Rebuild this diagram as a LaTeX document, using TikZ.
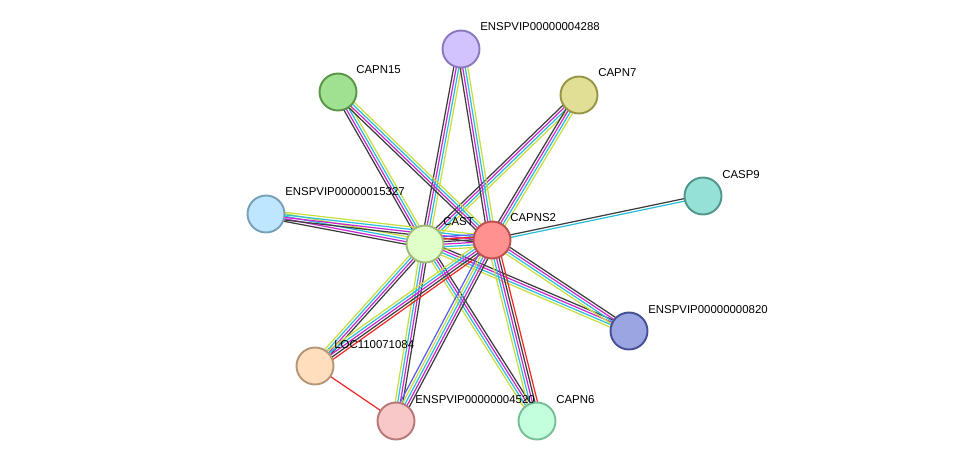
\documentclass[tikz,border=0pt]{standalone}
\usepackage{fontspec}
\setmainfont{Liberation Sans}
\usetikzlibrary{calc}
\definecolor{tm}{RGB}{199,222,62}
\definecolor{db}{RGB}{42,190,220}
\definecolor{ex}{RGB}{200,40,210}
\definecolor{co}{RGB}{60,60,60}
\definecolor{fu}{RGB}{240,40,40}
\definecolor{oc}{RGB}{90,90,250}
\tikzset{
  prot/.style={circle,minimum size=0.74cm,line width=1.1pt,inner sep=0pt},
  lab/.style={anchor=west,font=\fontsize{6.5}{7}\selectfont,inner sep=0pt}
}
% edge with parallel coloured strands
\newcommand{\stringedge}[3]{%
  \foreach \c [count=\i] in {#3} {\xdef\nstr{\i}}%
  \foreach \c [count=\i] in {#3} {%
    \pgfmathsetmacro{\off}{(\i-(\nstr+1)/2)*1.45}%
    \draw[\c,line width=0.7pt] ($(#1)!\off pt!90:(#2)$) -- ($(#2)!\off pt!-90:(#1)$);
  }%
}
\begin{document}
\begin{tikzpicture}[x=0.02cm,y=-0.02cm]
  \useasboundingbox (0,0) rectangle (975,467);
  \coordinate (cast) at (425,244);
  \coordinate (capns2) at (492,240);
  \coordinate (p4288) at (461,49);
  \coordinate (capn15) at (338,92);
  \coordinate (capn7) at (579,95);
  \coordinate (casp9) at (703,196);
  \coordinate (p15327) at (266,214);
  \coordinate (p0820) at (629,331);
  \coordinate (loc) at (315,366);
  \coordinate (p4520) at (396,421);
  \coordinate (capn6) at (537,421);
  % edges
  \foreach \t in {p4288,capn15,capn7,p15327,p0820,loc,p4520,capn6} {
    \stringedge{cast}{\t}{tm,db,ex,co}
  }
  \foreach \t in {p4288,capn15,capn7,p15327,p0820} {
    \stringedge{capns2}{\t}{tm,db,ex,co}
  }
  \stringedge{capns2}{loc}{tm,db,ex,co,fu}
  \stringedge{capns2}{p4520}{oc,tm,db,ex,co}
  \stringedge{capns2}{capn6}{tm,db,ex,co,fu}
  \stringedge{capns2}{casp9}{db,co}
  \stringedge{cast}{capns2}{tm,db,ex,co,fu,oc}
  \draw[fu,line width=0.7pt] (loc) -- (p4520);
  % nodes
  \node[prot,draw={rgb,255:red,160;green,185;blue,120},fill={rgb,255:red,225;green,255;blue,200}] (n1) at (cast) {};
  \node[prot,draw={rgb,255:red,190;green,80;blue,80},fill={rgb,255:red,255;green,145;blue,145}] (n2) at (capns2) {};
  \node[prot,draw={rgb,255:red,140;green,120;blue,190},fill={rgb,255:red,210;green,195;blue,255}] (n3) at (p4288) {};
  \node[prot,draw={rgb,255:red,90;green,150;blue,70},fill={rgb,255:red,160;green,225;blue,145}] (n4) at (capn15) {};
  \node[prot,draw={rgb,255:red,150;green,150;blue,70},fill={rgb,255:red,225;green,222;blue,150}] (n5) at (capn7) {};
  \node[prot,draw={rgb,255:red,80;green,150;blue,140},fill={rgb,255:red,150;green,225;blue,215}] (n6) at (casp9) {};
  \node[prot,draw={rgb,255:red,120;green,160;blue,185},fill={rgb,255:red,190;green,230;blue,255}] (n7) at (p15327) {};
  \node[prot,draw={rgb,255:red,70;green,80;blue,150},fill={rgb,255:red,155;green,165;blue,225}] (n8) at (p0820) {};
  \node[prot,draw={rgb,255:red,180;green,150;blue,120},fill={rgb,255:red,255;green,222;blue,190}] (n9) at (loc) {};
  \node[prot,draw={rgb,255:red,185;green,120;blue,120},fill={rgb,255:red,248;green,200;blue,200}] (n10) at (p4520) {};
  \node[prot,draw={rgb,255:red,120;green,190;blue,150},fill={rgb,255:red,195;green,255;blue,220}] (n11) at (capn6) {};
  % labels
  \node[lab] at ($(cast)+(18,-22)$) {CAST};
  \node[lab] at ($(capns2)+(18,-22)$) {CAPNS2};
  \node[lab] at ($(p4288)+(19,-22)$) {ENSPVIP00000004288};
  \node[lab] at ($(capn15)+(18,-22)$) {CAPN15};
  \node[lab] at ($(capn7)+(19,-22)$) {CAPN7};
  \node[lab] at ($(casp9)+(19,-21)$) {CASP9};
  \node[lab] at ($(p15327)+(19,-22)$) {ENSPVIP00000015327};
  \node[lab] at ($(p0820)+(19,-21)$) {ENSPVIP00000000820};
  \node[lab] at ($(loc)+(19,-21)$) {LOC110071084};
  \node[lab] at ($(p4520)+(19,-21)$) {ENSPVIP00000004520};
  \node[lab] at ($(capn6)+(19,-21)$) {CAPN6};
\end{tikzpicture}
\end{document}
